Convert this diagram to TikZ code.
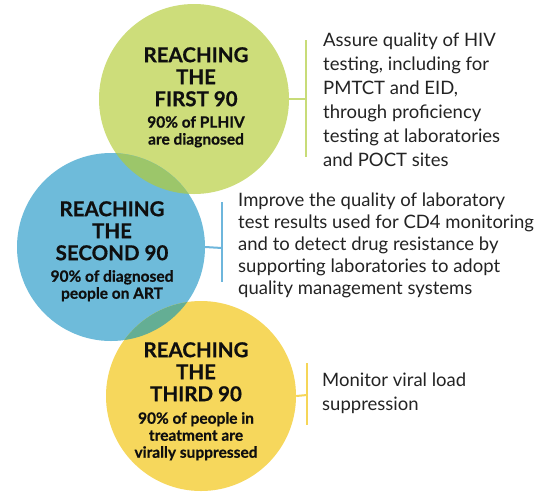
\documentclass[tikz,border=0pt]{standalone}
\usepackage{fontspec}
\setmainfont{Lato}
\newfontfamily\circfont{Lato}[BoldFeatures={FakeBold=0.6}]
\definecolor{cgreen}{RGB}{205,221,122}
\definecolor{cblue}{RGB}{110,187,218}
\definecolor{cyellow}{RGB}{246,215,92}
\definecolor{cgb}{RGB}{156,198,106}
\definecolor{cby}{RGB}{100,174,148}
\definecolor{lgreen}{RGB}{200,220,120}
\definecolor{lblue}{RGB}{110,182,220}
\definecolor{lyellow}{RGB}{246,214,88}
\definecolor{txt}{RGB}{35,35,35}
\definecolor{ctxt}{RGB}{15,15,15}
\begin{document}
\begin{tikzpicture}[x=1pt,y=1pt,
  disc/.style={circle,inner sep=0pt,minimum size=#1},
  title/.style={anchor=north,inner sep=0pt,align=center,text=ctxt,font=\circfont\bfseries\fontsize{20.5}{22}\selectfont},
  subtitle/.style={anchor=north,inner sep=0pt,align=center,text=ctxt,font=\circfont\bfseries\fontsize{15.5}{17}\selectfont},
  body/.style={anchor=north west,inner sep=0pt,align=left,text=txt},
  link/.style={line width=2pt}]
\useasboundingbox (0,0) rectangle (553,-491);
\fill[white] (0,0) rectangle (553,-491);
% circles
\node[disc=190pt,fill=cgreen] (g) at (194,-99) {};
\node[disc=188pt,fill=cblue] (b) at (111,-247) {};
\node[disc=190pt,fill=cyellow] (y) at (201,-396) {};
% overlaps
\begin{scope}
  \clip (194,-99) circle (95);
  \fill[cgb] (111,-247) circle (94);
\end{scope}
\begin{scope}
  \clip (111,-247) circle (94);
  \fill[cby] (201,-396) circle (95);
\end{scope}
% circle texts
\node[title] (gt) at (196,-47) {REACHING\\THE\\FIRST 90};
\node[subtitle] (gs) at (196,-116) {90\% of PLHIV\\are diagnosed};
\node[title] (bt) at (112,-201) {REACHING\\THE\\SECOND 90};
\node[subtitle] (bs) at (112,-270) {90\% of diagnosed\\people on ART};
\node[title] (yt) at (196,-342) {REACHING\\THE\\THIRD 90};
\node[subtitle] (ys) at (196,-412) {90\% of people in\\treatment are\\virally suppressed};
% connectors
\coordinate (gj) at (306,-99);
\coordinate (gtop) at (306,-40);
\coordinate (gbot) at (306,-157);
\draw[link,lgreen] (gtop) -- (gbot);
\draw[link,lgreen] (g.east) -- (gj);
\coordinate (bj) at (222,-248);
\coordinate (btop) at (222,-202);
\coordinate (bbot) at (222,-282);
\draw[link,lblue] (btop) -- (bbot);
\draw[link,lblue] (b.east) -- (bj);
\coordinate (yj) at (307,-395);
\coordinate (ytop) at (307,-363);
\coordinate (ybot) at (307,-425);
\draw[link,lyellow] (ytop) -- (ybot);
\draw[link,lyellow] (y.east) -- (yj);
% body texts
\node[body,font=\fontsize{18.5}{24}\selectfont] (gx) at (323,-33) {Assure quality of HIV\\testing, including for\\PMTCT and EID,\\through proficiency\\testing at laboratories\\and POCT sites};
\node[body,font=\fontsize{18.5}{22}\selectfont] (bx) at (238,-193) {Improve the quality of laboratory\\test results used for CD4 monitoring\\and to detect drug resistance by\\supporting laboratories to adopt\\quality management systems};
\node[body,font=\fontsize{18.5}{24}\selectfont] (yx) at (322,-373) {Monitor viral load\\suppression};
\end{tikzpicture}
\end{document}
